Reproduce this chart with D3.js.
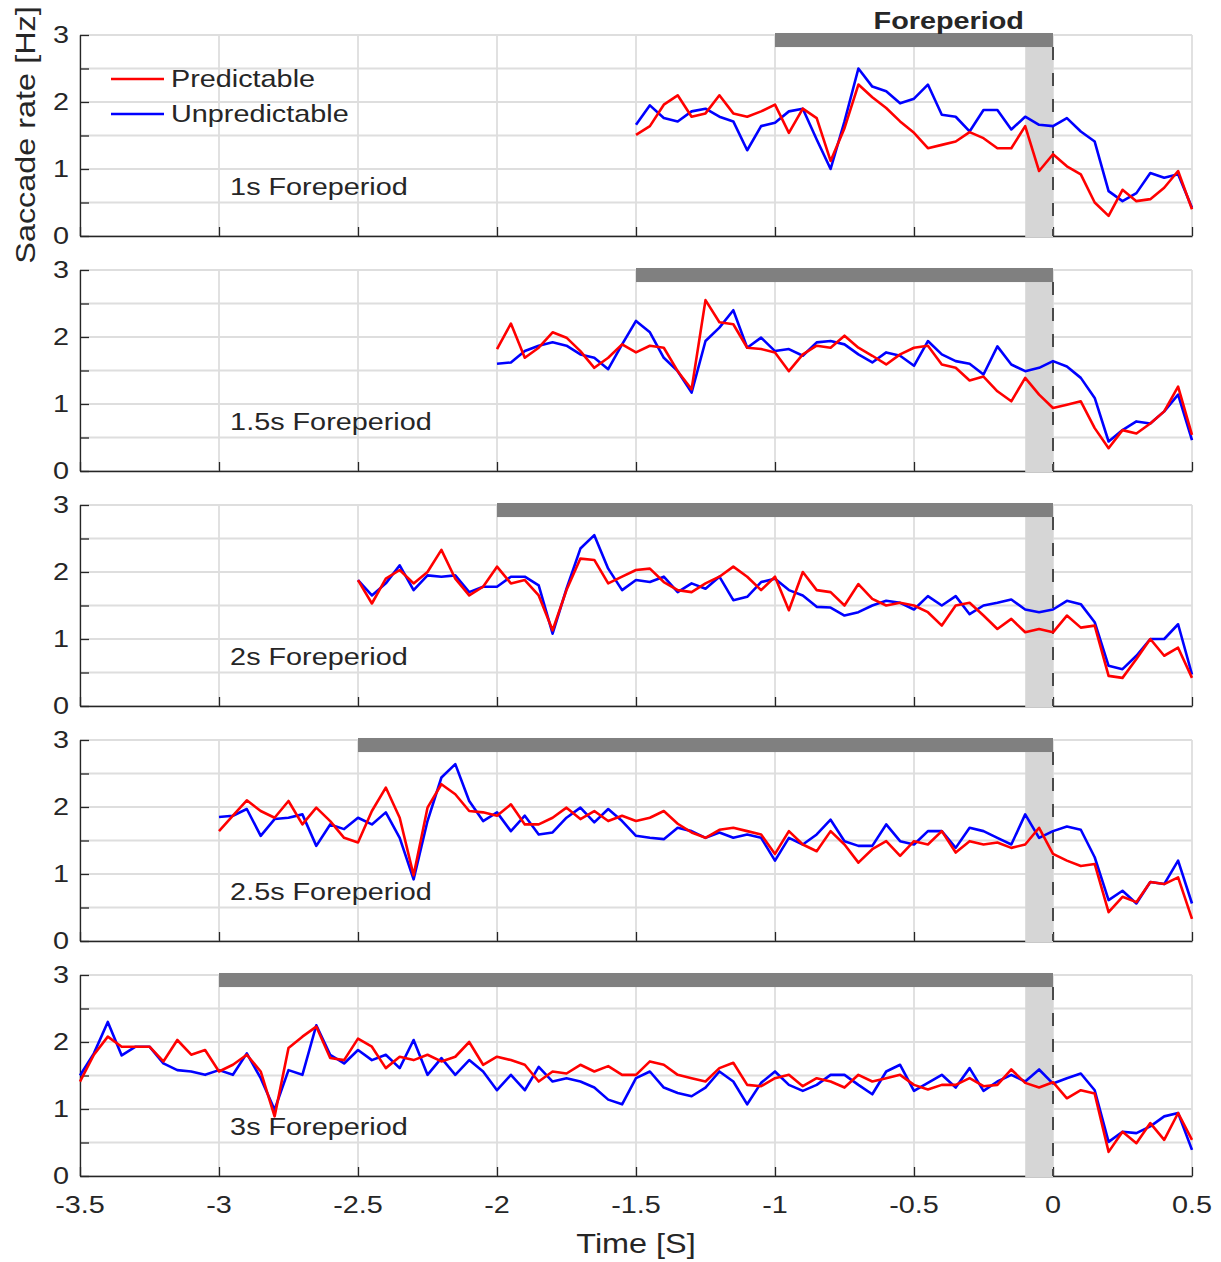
<!DOCTYPE html>
<html>
<head>
<meta charset="utf-8">
<script src="https://cdn.jsdelivr.net/npm/d3@7"></script>
<style>
  html, body { margin: 0; padding: 0; background: #fff; }
  svg { display: block; }
</style>
</head>
<body>
<div id="chart"></div>
<script>
// ---------------- DATA ----------------
const foreperiods = [1, 1.5, 2, 2.5, 3];
const panelLabels = ["1s Foreperiod", "1.5s Foreperiod", "2s Foreperiod", "2.5s Foreperiod", "3s Foreperiod"];
const seriesNames = ["Predictable", "Unpredictable"];
const xTickValues = [-3.5, -3, -2.5, -2, -1.5, -1, -0.5, 0, 0.5];
const xTickLabels = ["-3.5", "-3", "-2.5", "-2", "-1.5", "-1", "-0.5", "0", "0.5"];
const yTickValues = [0, 1, 2, 3];
const yTickLabels = ["0", "1", "2", "3"];
const timeStep = 0.05;           // sampling of the traces (s)
const cueWindow = [-0.1, 0];     // shaded window before target

// each trace starts at -(foreperiod + 0.5) s and ends at 0.5 s
const pred1 = [1.51,1.64,1.96,2.1,1.78,1.83,2.1,1.83,1.78,1.86,1.96,1.54,1.9,1.76,1.12,1.61,2.26,2.07,1.91,1.71,1.54,1.31,1.36,1.41,1.55,1.46,1.31,1.31,1.64,0.97,1.22,1.04,0.92,0.5,0.3,0.69,0.52,0.55,0.72,0.97,0.4];
const unpred1 = [1.66,1.95,1.76,1.71,1.86,1.9,1.78,1.71,1.28,1.64,1.69,1.86,1.9,1.44,1.0,1.71,2.5,2.23,2.16,1.98,2.05,2.26,1.81,1.78,1.56,1.88,1.88,1.59,1.78,1.66,1.64,1.76,1.56,1.41,0.67,0.52,0.64,0.94,0.87,0.92,0.42];

const pred2 = [1.82,2.2,1.69,1.84,2.07,1.99,1.79,1.54,1.69,1.89,1.77,1.87,1.84,1.49,1.22,2.55,2.22,2.19,1.84,1.82,1.77,1.49,1.74,1.87,1.84,2.02,1.84,1.72,1.59,1.74,1.84,1.87,1.59,1.54,1.35,1.41,1.19,1.04,1.39,1.14,0.94,0.99,1.04,0.64,0.34,0.61,0.56,0.71,0.89,1.26,0.54];
const unpred2 = [1.6,1.62,1.79,1.87,1.92,1.87,1.74,1.69,1.52,1.89,2.24,2.07,1.69,1.49,1.17,1.94,2.14,2.4,1.84,1.99,1.79,1.82,1.72,1.92,1.94,1.89,1.74,1.62,1.77,1.72,1.57,1.94,1.74,1.64,1.6,1.44,1.86,1.59,1.49,1.54,1.64,1.56,1.39,1.09,0.44,0.61,0.74,0.71,0.89,1.14,0.46];

const pred3 = [1.88,1.53,1.9,2.03,1.83,2.0,2.33,1.9,1.65,1.78,2.08,1.83,1.88,1.65,1.13,1.73,2.2,2.18,1.83,1.93,2.03,2.05,1.85,1.73,1.7,1.83,1.93,2.08,1.93,1.73,1.93,1.43,2.0,1.73,1.7,1.5,1.82,1.6,1.5,1.54,1.5,1.4,1.2,1.5,1.54,1.35,1.15,1.3,1.1,1.15,1.1,1.35,1.17,1.2,0.45,0.42,0.7,1.0,0.75,0.87,0.42];
const unpred3 = [1.88,1.65,1.83,2.1,1.73,1.95,1.93,1.95,1.7,1.78,1.78,1.93,1.93,1.8,1.08,1.75,2.35,2.55,2.05,1.73,1.88,1.85,1.93,1.7,1.83,1.75,1.93,1.58,1.63,1.85,1.9,1.73,1.65,1.48,1.47,1.35,1.4,1.5,1.57,1.54,1.44,1.64,1.5,1.64,1.37,1.5,1.54,1.59,1.44,1.4,1.44,1.57,1.52,1.25,0.6,0.55,0.75,1.0,1.0,1.22,0.47];

const pred4 = [1.64,1.87,2.1,1.94,1.84,2.09,1.74,1.99,1.79,1.54,1.47,1.94,2.29,1.84,0.98,1.99,2.34,2.19,1.94,1.92,1.87,2.04,1.74,1.74,1.84,1.99,1.82,1.94,1.79,1.87,1.79,1.84,1.94,1.75,1.62,1.54,1.66,1.69,1.64,1.59,1.3,1.64,1.44,1.34,1.64,1.44,1.17,1.37,1.49,1.27,1.49,1.44,1.64,1.32,1.49,1.44,1.47,1.39,1.44,1.69,1.3,1.2,1.12,1.15,0.43,0.66,0.58,0.88,0.85,0.95,0.33];
const unpred4 = [1.85,1.87,1.97,1.57,1.82,1.84,1.89,1.42,1.74,1.67,1.84,1.74,1.92,1.54,0.92,1.79,2.44,2.64,2.09,1.79,1.92,1.64,1.87,1.59,1.62,1.84,1.99,1.77,1.97,1.79,1.57,1.54,1.52,1.69,1.64,1.54,1.62,1.54,1.59,1.54,1.2,1.54,1.44,1.59,1.81,1.49,1.42,1.42,1.74,1.49,1.44,1.64,1.64,1.39,1.69,1.64,1.54,1.44,1.89,1.54,1.64,1.71,1.66,1.25,0.61,0.75,0.56,0.88,0.85,1.2,0.56];

const pred5 = [1.41,1.81,2.08,1.93,1.93,1.93,1.71,2.03,1.81,1.88,1.56,1.66,1.81,1.56,0.89,1.91,2.08,2.23,1.76,1.73,2.05,1.93,1.61,1.78,1.73,1.81,1.71,1.78,2.0,1.66,1.78,1.73,1.66,1.41,1.56,1.53,1.66,1.56,1.64,1.51,1.51,1.71,1.66,1.51,1.46,1.41,1.61,1.69,1.36,1.34,1.46,1.51,1.34,1.46,1.41,1.32,1.51,1.41,1.46,1.51,1.36,1.29,1.36,1.36,1.46,1.34,1.36,1.59,1.39,1.32,1.4,1.16,1.28,1.23,0.36,0.66,0.49,0.79,0.54,0.94,0.54];
const unpred5 = [1.5,1.83,2.3,1.8,1.93,1.93,1.68,1.58,1.56,1.51,1.58,1.51,1.83,1.46,0.99,1.58,1.51,2.25,1.81,1.68,1.88,1.73,1.81,1.61,2.03,1.51,1.76,1.51,1.73,1.56,1.28,1.51,1.28,1.63,1.41,1.46,1.41,1.32,1.14,1.07,1.46,1.56,1.32,1.24,1.19,1.32,1.56,1.41,1.07,1.39,1.56,1.36,1.27,1.36,1.51,1.51,1.36,1.22,1.56,1.66,1.27,1.39,1.51,1.32,1.61,1.27,1.41,1.51,1.41,1.59,1.38,1.46,1.53,1.28,0.51,0.66,0.64,0.74,0.89,0.94,0.39];

const predictable = [pred1, pred2, pred3, pred4, pred5];
const unpredictable = [unpred1, unpred2, unpred3, unpred4, unpred5];

// ---------------- LAYOUT ----------------
const W = 1221, H = 1262;
const plotLeft = 80, plotRight = 1192;
const panelTop0 = 35, panelH = 201, panelGap = 235;
const SX = 1.2;                    // horizontal text stretch of the original render
const textColor = "#262626";
const colors = { Predictable: "#ff0000", Unpredictable: "#0000ff" };
const fontFam = "'Liberation Sans', Arial, Helvetica, sans-serif";

const svg = d3.select("#chart").append("svg").attr("width", W).attr("height", H);

const x = d3.scaleLinear().domain([-3.5, 0.5]).range([plotLeft, plotRight]);

function stretchText(g, str, px, py, opts = {}) {
  const { anchor = "start", size = 24, weight = "normal", rotate = 0 } = opts;
  return g.append("text")
    .attr("transform", `translate(${px},${py})` + (rotate ? ` rotate(${rotate})` : "") + ` scale(${SX},1)`)
    .attr("text-anchor", anchor)
    .attr("dy", "0.35em")
    .attr("font-family", fontFam)
    .attr("font-size", size)
    .attr("font-weight", weight)
    .attr("fill", textColor)
    .text(str);
}

const gridTicks = d3.range(0, 3.01, 0.5);

foreperiods.forEach((fp, k) => {
  const top = panelTop0 + k * panelGap;
  const bottom = top + panelH;
  const y = d3.scaleLinear().domain([0, 3]).range([bottom, top]);
  const g = svg.append("g");

  // grid
  g.append("g").selectAll("line.v").data(xTickValues).join("line")
    .attr("x1", d => x(d)).attr("x2", d => x(d)).attr("y1", y(0)).attr("y2", y(3))
    .attr("stroke", "#dedede").attr("stroke-width", 1.8);
  g.append("g").selectAll("line.h").data(gridTicks).join("line")
    .attr("x1", x(-3.5)).attr("x2", x(0.5)).attr("y1", d => y(d)).attr("y2", d => y(d))
    .attr("stroke", "#dedede").attr("stroke-width", 1.8);

  // axes (ticks inward)
  const ax = g.append("g").attr("transform", `translate(${x(-3.5)},0)`)
    .call(d3.axisLeft(y).tickValues(gridTicks).tickSize(-9).tickSizeOuter(0).tickFormat(""));
  const bx = g.append("g").attr("transform", `translate(0,${y(0)})`)
    .call(d3.axisBottom(x).tickValues(xTickValues).tickSize(-9).tickSizeOuter(0).tickFormat(""));
  [ax, bx].forEach(a => {
    a.select(".domain").attr("stroke", textColor).attr("stroke-width", 1.3);
    a.selectAll(".tick line").attr("stroke", textColor).attr("stroke-width", 1.3);
  });

  // y tick labels
  yTickValues.forEach((v, i) => stretchText(g, yTickLabels[i], 69, y(v), { anchor: "end", size: 24 }));

  // shaded cue window
  g.append("rect")
    .attr("x", x(cueWindow[0])).attr("width", x(cueWindow[1]) - x(cueWindow[0]))
    .attr("y", y(2.82)).attr("height", y(0) - y(2.82) + 1)
    .attr("fill", "#d6d6d6");

  // dashed line at 0
  g.append("line")
    .attr("x1", x(0)).attr("x2", x(0)).attr("y1", y(2.82)).attr("y2", y(0))
    .attr("stroke", "#4a4a4a").attr("stroke-width", 2).attr("stroke-dasharray", "13,13");

  // foreperiod bar
  g.append("rect")
    .attr("x", x(-fp)).attr("width", x(0) - x(-fp))
    .attr("y", y(3.03)).attr("height", y(2.82) - y(3.03))
    .attr("fill", "#808080");

  // traces
  const start = -(fp + 0.5);
  const line = d3.line().x((d, i) => x(start + i * timeStep)).y(d => y(d));
  [["Unpredictable", unpredictable[k]], ["Predictable", predictable[k]]].forEach(([name, arr]) => {
    g.append("path").datum(arr)
      .attr("d", line)
      .attr("fill", "none")
      .attr("stroke", colors[name])
      .attr("stroke-width", 2.6)
      .attr("stroke-linejoin", "round");
  });

  // panel label
  stretchText(g, panelLabels[k], x(-2.96), y(0.73), { size: 24 });

  if (k === 0) {
    // legend
    seriesNames.forEach((name, i) => {
      const ly = 79 + i * 35;
      g.append("line").attr("x1", 111).attr("x2", 164).attr("y1", ly).attr("y2", ly)
        .attr("stroke", colors[name]).attr("stroke-width", 2.6);
      stretchText(g, name, 171, ly, { size: 24 });
    });
    // title over the bar
    stretchText(g, "Foreperiod", x(-0.375), 21, { anchor: "middle", size: 24, weight: "bold" });
  }

  if (k === foreperiods.length - 1) {
    xTickValues.forEach((v, i) => stretchText(g, xTickLabels[i], x(v), bottom + 29, { anchor: "middle", size: 24 }));
  }
});

// axis titles
stretchText(svg, "Time [S]", x(-1.5), 1244, { anchor: "middle", size: 27 });
stretchText(svg, "Saccade rate [Hz]", 26, 135, { anchor: "middle", size: 27, rotate: -90 });
</script>
</body>
</html>
